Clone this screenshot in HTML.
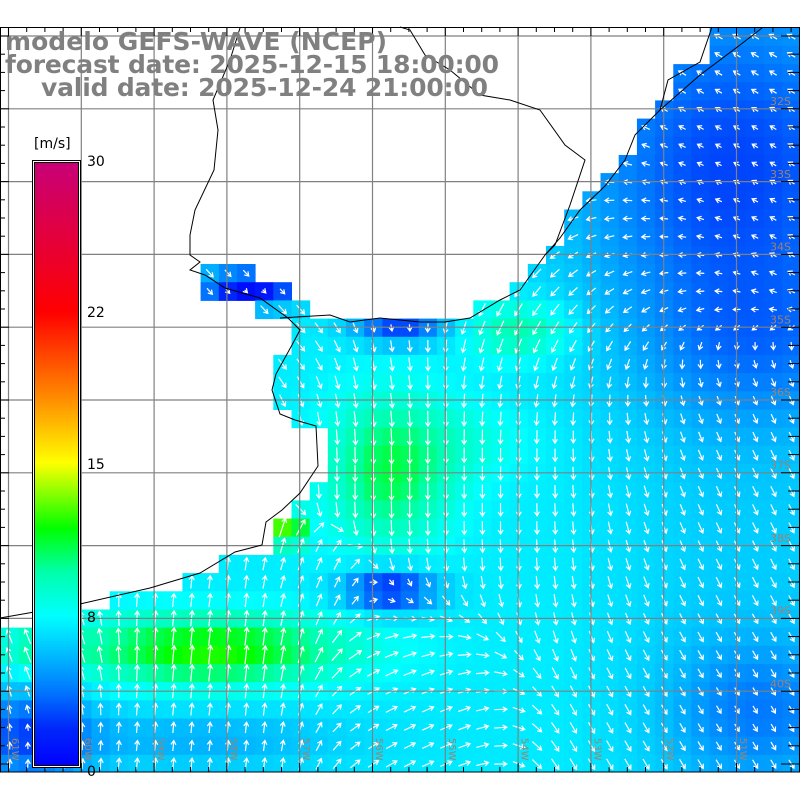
<!DOCTYPE html>
<html><head><meta charset="utf-8"><style>
html,body{margin:0;padding:0;background:#fff;width:800px;height:800px;overflow:hidden}
svg{display:block}
</style></head><body>
<svg id="s" width="800" height="800" xmlns="http://www.w3.org/2000/svg"></svg>
<script>
var S=document.getElementById('s');
var out=[];
var X0=0.6,Y0=27.7,C=18.18;
var ocean=[[0,625],[80,608],[150,592],[200,578],[235,558],[270,548],[275,520],[300,500],[322,470],[322,425],[290,418],[275,410],[275,375],[292,340],[280,320],[250,302],[210,300],[198,263],[222,265],[292,285],[330,320],[450,320],[500,300],[545,250],[582,205],[605,185],[628,160],[640,120],[655,105],[672,80],[700,60],[712,27],[800,27],[800,772],[0,772]];
function inPoly(x,y,p){var c=false;for(var i=0,j=p.length-1;i<p.length;j=i++){var xi=p[i][0],yi=p[i][1],xj=p[j][0],yj=p[j][1];if(((yi>y)!=(yj>y))&&(x<(xj-xi)*(y-yi)/(yj-yi)+xi))c=!c;}return c;}
var bumps=[[730,170,170,170,-3.8],[760,350,120,80,-1.8],[520,330,55,30,2.8],[250,288,50,18,-7],[400,332,45,12,-5.5],[390,470,65,75,3.8],[290,530,12,16,8],[390,590,45,20,-6],[210,650,140,35,5],[40,650,40,25,2],[30,735,60,45,-4.5],[200,740,150,30,-1.8],[760,710,90,70,-2.5],[480,440,60,40,1]];
function spd(x,y){var s=7.4;if(x>560)s-=Math.min(1,(x-560)/150)*0.9;for(var b of bumps){var dx=(x-b[0])/b[2],dy=(y-b[1])/b[3];s+=b[4]*Math.exp(-(dx*dx+dy*dy));}return Math.max(0.5,s);}
var stops=[[0,[0,0,255]],[2,[0,40,250]],[4,[0,120,255]],[6,[0,190,255]],[8,[0,255,255]],[10,[0,255,170]],[12,[0,255,0]],[15,[255,255,0]],[18,[255,140,0]],[22,[255,0,0]],[30,[200,0,120]]];
function col(v){for(var i=0;i<stops.length-1;i++){var a=stops[i],b=stops[i+1];if(v<=b[0]){var t=Math.max(0,(v-a[0])/(b[0]-a[0]));return 'rgb('+a[1].map(function(c,k){return Math.round(c+(b[1][k]-c)*t)}).join(',')+')';}}return 'rgb(200,0,120)';}
var vecs=[[700,130,120,-1,-0.6],[620,230,80,-1,0.1],[550,290,90,-0.6,0.8],[500,480,150,0,1],[720,500,100,0.5,1],[200,660,120,0.1,-1],[420,690,80,1,-0.5],[700,700,120,0.6,1],[320,580,40,0.4,-1],[60,650,50,-0.5,-1],[300,320,60,0.6,0.6],[380,370,50,0.2,1]];
function dir(x,y){var vx=0,vy=0;for(var v of vecs){var dx=(x-v[0])/v[2],dy=(y-v[1])/v[2];var w=Math.exp(-(dx*dx+dy*dy));vx+=w*v[3];vy+=w*v[4];}var m=Math.hypot(vx,vy)||1;return [vx/m,vy/m];}
var cells=[],arrows=[];
for(var j=0;j<41;j++)for(var i=0;i<44;i++){var x=X0+i*C,y=Y0+j*C,cx=x+C/2,cy=y+C/2;if(cy>772)continue;if(!inPoly(cx,cy,ocean))continue;var s=spd(cx,cy);var h=Math.min(C+0.5,772-y);cells.push('<rect x="'+x.toFixed(1)+'" y="'+y.toFixed(1)+'" width="'+(C+0.5).toFixed(1)+'" height="'+h.toFixed(1)+'" fill="'+col(s)+'"/>');
var d=dir(cx,cy),L=3+s*1.3;var x1=cx-d[0]*L/2,y1=cy-d[1]*L/2,x2=cx+d[0]*L/2,y2=cy+d[1]*L/2;var hx=-d[0]*4,hy=-d[1]*4;
arrows.push('<path d="M'+x1.toFixed(1)+' '+y1.toFixed(1)+'L'+x2.toFixed(1)+' '+y2.toFixed(1)+'M'+(x2+hx-d[1]*2.5).toFixed(1)+' '+(y2+hy+d[0]*2.5).toFixed(1)+'L'+x2.toFixed(1)+' '+y2.toFixed(1)+'L'+(x2+hx+d[1]*2.5).toFixed(1)+' '+(y2+hy-d[0]*2.5).toFixed(1)+'"/>');}
out.push(cells.join(''));
out.push('<g stroke="#fff" stroke-width="1.2" fill="none">'+arrows.join('')+'</g>');
var g='<g stroke="#808080" stroke-width="1.2">';
for(var k=0;k<11;k++){var gx=8.5+k*72.8;g+='<line x1="'+gx+'" y1="27" x2="'+gx+'" y2="772"/>';}
for(var k=0;k<10;k++){var gy=36+k*72.8;g+='<line x1="0" y1="'+gy+'" x2="800" y2="'+gy+'"/>';}
g+='</g>';out.push(g);
out.push('<g stroke="#000" stroke-width="1" fill="none">'+
'<polyline points="0,618 80,604 150,588 200,573 235,552 262,545 266,522 282,510 300,493 318,466 316,426 295,420 280,414 272,390 276,374 292,345 300,330 288,318 260,298 225,288 205,275 190,270 200,262 190,255 190,235 195,210 214,170 218,130 213,100 230,60 240,28"/>'+
'<polyline points="280,318 330,315 350,322 380,318 420,322 445,322 470,318 500,300 520,290 545,255 560,238 580,210 605,186 625,160 635,135 660,110 700,75 740,45 762,28"/>'+
'<polyline points="545,255 555,245 570,205 585,160 565,145 540,110 510,100 480,95 450,70 425,55 410,30 400,27"/>'+
'<polyline points="660,110 668,80 700,62 712,27"/>'+
'</g>');
var t='<g stroke="#000" stroke-width="1" fill="none"><rect x="0.5" y="27.5" width="799" height="744.5"/>';
for(var k=0;k<44;k++){var tx=8.5+k*18.2;t+='<line x1="'+tx+'" y1="27" x2="'+tx+'" y2="'+(k%4==0?36:32)+'"/><line x1="'+tx+'" y1="772" x2="'+tx+'" y2="'+(k%4==0?763:767)+'"/>';}
for(var k=0;k<42;k++){var ty=36+k*18.2;if(ty>772)break;t+='<line x1="0" y1="'+ty+'" x2="'+(k%4==0?9:5)+'" y2="'+ty+'"/><line x1="800" y1="'+ty+'" x2="'+(k%4==0?781:788)+'" y2="'+ty+'"/>';}
t+='</g>';out.push(t);
var lab='<g fill="#a08070" font-family="DejaVu Sans, sans-serif" font-size="10">';
var lons=['61W','60W','59W','58W','57W','56W','55W','54W','53W','52W','51W'];
for(var k=0;k<11;k++){var lx=12+k*72.8;lab+='<text transform="translate('+lx+',738) rotate(90)">'+lons[k]+'</text>';}
var lats=['32S','33S','34S','35S','36S','37S','38S','39S','40S'];
for(var k=0;k<9;k++){lab+='<text x="770" y="'+(105+k*72.8)+'" font-size="11">'+lats[k]+'</text>';}
lab+='</g>';out.push(lab);
var gs='<defs><linearGradient id="cb" x1="0" y1="1" x2="0" y2="0">';
function off(v){var yy;if(v<=8)yy=768-v/8*151;else if(v<=15)yy=617-(v-8)/7*154;else if(v<=22)yy=463-(v-15)/7*152;else yy=311-(v-22)/8*151;return (768-yy)/608;}
for(var st of stops){gs+='<stop offset="'+off(st[0]).toFixed(3)+'" stop-color="'+col(st[0])+'"/>';}
gs+='</linearGradient></defs>';out.push(gs);
out.push('<rect x="32" y="160" width="49" height="608" fill="#fff"/><rect x="34.5" y="162.5" width="44" height="603" fill="url(#cb)" stroke="#000" stroke-width="1"/><rect x="32.5" y="160.5" width="48" height="607" fill="none" stroke="#000" stroke-width="1"/>');
out.push('<g font-family="DejaVu Sans, sans-serif" font-size="14" fill="#000"><text x="34" y="148">[m/s]</text><text x="87" y="166">30</text><text x="87" y="317">22</text><text x="87" y="469">15</text><text x="87" y="622">8</text><text x="87" y="776">0</text></g>');
out.push('<g font-family="DejaVu Sans, sans-serif" font-weight="bold" font-size="25" fill="#808080"><text x="5" y="50" textLength="382">modelo GEFS-WAVE (NCEP)</text><text x="5" y="73" textLength="494">forecast date: 2025-12-15 18:00:00</text><text x="41" y="96" textLength="447">valid date: 2025-12-24 21:00:00</text></g>');
S.innerHTML=out.join('');
</script>
</body></html>
